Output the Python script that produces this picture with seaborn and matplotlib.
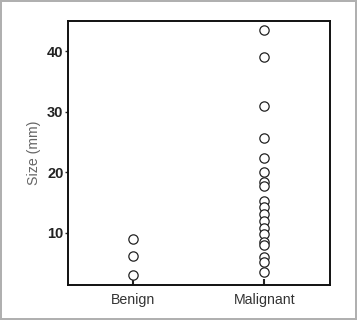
import matplotlib
matplotlib.use("Agg")
import matplotlib.pyplot as plt
import seaborn as sns
import pandas as pd

categories = ["Benign", "Malignant"]
benign_sizes = [9.0, 6.25, 3.1]
malignant_sizes = [43.5, 39.0, 30.9, 25.6, 22.4, 20.0, 18.4, 17.8, 15.2, 14.3,
                   13.1, 11.9, 10.8, 9.9, 8.5, 8.0, 6.0, 5.2, 3.5]
y_ticks = [10, 20, 30, 40]

df = pd.DataFrame({
    "group": [categories[0]] * len(benign_sizes) + [categories[1]] * len(malignant_sizes),
    "size": benign_sizes + malignant_sizes,
})

sns.set_style("ticks")
plt.rcParams['font.family'] = ['Liberation Sans', 'DejaVu Sans']

fig = plt.figure(figsize=(3.57, 3.2), dpi=100)
fig.patch.set_facecolor("white")
fig.patch.set_edgecolor("#b0b0b0")
fig.patch.set_linewidth(1.5)
ax = fig.add_axes([67.7 / 357, 1 - 285 / 320, (330 - 67.7) / 357, (285 - 21) / 320])

sns.stripplot(data=df, x="group", y="size", order=categories, jitter=False,
              ax=ax, marker="o", size=6.7, color="white", edgecolor="#222222",
              linewidth=0.9)

ax.set_xlim(-0.5, 1.5)
ax.set_ylim(1.4, 45.0)
ax.set_yticks(y_ticks)
ax.set_yticklabels([str(t) for t in y_ticks], fontsize=10.5, fontweight="bold", color="#222222")
ax.tick_params(axis="y", direction="out", length=2.5, width=1, pad=0.5, color="#222222")
ax.tick_params(axis="x", direction="in", length=4, width=1.5, pad=5.5, labelsize=10.2,
               labelcolor="#333333", color="#222222")
ax.set_xlabel("")
ax.set_ylabel("Size (mm)", fontsize=10.2, color="#666666", labelpad=4.5)
for s in ax.spines.values():
    s.set_visible(True)
    s.set_linewidth(1.4)
    s.set_color("#111111")

fig.savefig("out.png", dpi=100, facecolor=fig.get_facecolor(), edgecolor=fig.get_edgecolor())
